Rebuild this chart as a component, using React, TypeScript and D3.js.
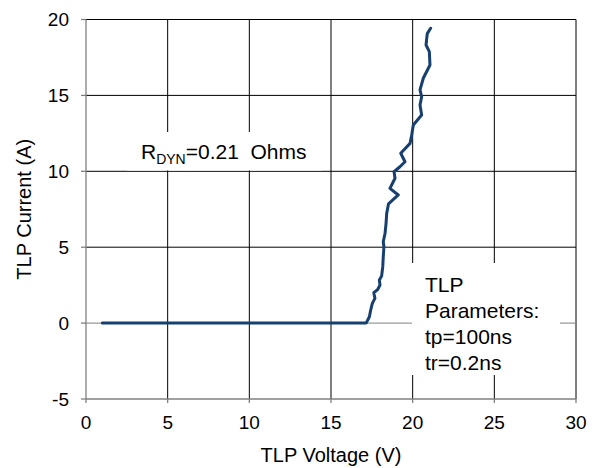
import React from "react";
import * as d3 from "d3";

const voltage = [1.0, 17.15, 17.35, 17.43, 17.53, 17.69, 17.62, 17.85, 18.0, 17.96, 18.1, 18.17, 18.2, 18.24, 18.2, 18.31, 18.37, 18.41, 18.52, 19.12, 18.61, 18.92, 18.86, 19.22, 19.53, 19.27, 19.84, 19.94, 20.04, 20.55, 20.45, 20.55, 20.45, 20.65, 21.06, 21.02, 20.82, 20.86, 20.9, 21.1];
const current = [0.0, 0.0, 0.42, 0.86, 1.3, 1.63, 2.0, 2.2, 2.51, 2.84, 3.1, 3.72, 4.37, 5.03, 5.36, 5.92, 6.57, 7.23, 7.85, 8.44, 8.88, 9.54, 9.97, 10.3, 10.63, 11.19, 11.84, 12.39, 13.05, 13.71, 14.37, 14.91, 15.36, 16.13, 17.0, 17.88, 18.32, 18.76, 19.09, 19.42];

const xTicks = [0, 5, 10, 15, 20, 25, 30];
const yTicks = [-5, 0, 5, 10, 15, 20];
const xTitle = "TLP Voltage (V)";
const yTitle = "TLP Current (A)";
const paramLines = ["TLP", "Parameters:", "tp=100ns", "tr=0.2ns"];

const FONT = "'Liberation Sans', Arial, sans-serif";

export default function App() {
  const x = d3.scaleLinear().domain([0, 30]).range([86, 576]);
  const y = d3.scaleLinear().domain([-5, 20]).range([399, 19.5]);
  const pts: [number, number][] = voltage.map((v, i) => [v, current[i]]);
  const line = d3
    .line<[number, number]>()
    .x((d) => x(d[0]))
    .y((d) => y(d[1]));

  return (
    <div style={{ position: "absolute", left: 0, top: 0 }}>
      <svg width={600} height={468} style={{ display: "block", background: "#fff" }}>
        <rect x={0} y={0} width={600} height={468} fill="#fff" />
        {xTicks.filter((t) => t > 0).map((t) => (
          <line key={"vx" + t} x1={x(t)} x2={x(t)} y1={y(20)} y2={y(-5)} stroke="#000" strokeWidth={1} />
        ))}
        {yTicks.filter((t) => t > -5).map((t) => (
          <line key={"hy" + t} x1={x(0)} x2={x(30)} y1={y(t)} y2={y(t)} stroke={t === 0 ? "#808080" : "#000"} strokeWidth={1} />
        ))}
        <line x1={x(0)} x2={x(0)} y1={y(20)} y2={y(-5)} stroke="#808080" strokeWidth={1.3} />
        <line x1={x(0)} x2={x(30)} y1={y(-5)} y2={y(-5)} stroke="#808080" strokeWidth={1.3} />
        {yTicks.map((t) => (
          <line key={"ty" + t} x1={x(0) - 5} x2={x(0)} y1={y(t)} y2={y(t)} stroke="#808080" strokeWidth={1.3} />
        ))}
        {xTicks.map((t) => (
          <line key={"tx" + t} x1={x(t)} x2={x(t)} y1={y(-5)} y2={y(-5) + 4} stroke="#808080" strokeWidth={1.3} />
        ))}
        <rect x={127} y={132} width={195} height={38.5} fill="#fff" />
        <rect x={412} y={263} width={148} height={112} fill="#fff" />
        <path d={line(pts) || ""} fill="none" stroke="#173f6f" strokeWidth={3} strokeLinejoin="round" strokeLinecap="round" />
        {yTicks.map((t) => (
          <text key={"ly" + t} x={69} y={y(t)} dy="0.35em" textAnchor="end" fontFamily={FONT} fontSize={19} fill="#000">
            {t}
          </text>
        ))}
        {xTicks.map((t) => (
          <text key={"lx" + t} x={x(t)} y={429} textAnchor="middle" fontFamily={FONT} fontSize={19} fill="#000">
            {t}
          </text>
        ))}
        <text x={(x(0) + x(30)) / 2} y={462} textAnchor="middle" fontFamily={FONT} fontSize={20} fill="#000">
          {xTitle}
        </text>
        <text transform={`translate(31, ${(y(20) + y(-5)) / 2}) rotate(-90)`} textAnchor="middle" fontFamily={FONT} fontSize={20} fill="#000">
          {yTitle}
        </text>
        <text x={141} y={158.5} fontFamily={FONT} fontSize={21} fill="#000" style={{ whiteSpace: "pre" }}>
          R<tspan fontSize={14} dy={5}>DYN</tspan>
          <tspan dy={-5}>{"=0.21  Ohms"}</tspan>
        </text>
        {paramLines.map((s, i) => (
          <text key={s} x={425} y={292 + i * 26} fontFamily={FONT} fontSize={21} fill="#000">
            {s}
          </text>
        ))}
      </svg>
    </div>
  );
}
